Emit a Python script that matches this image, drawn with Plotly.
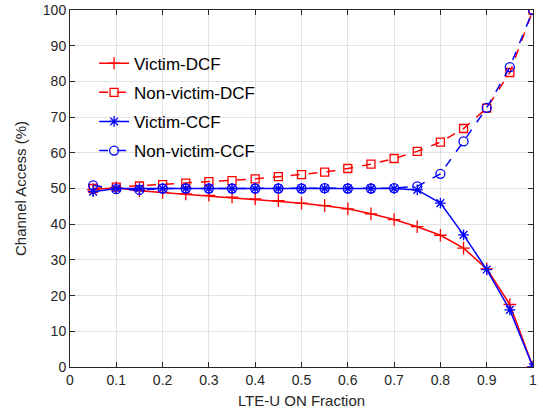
import plotly.graph_objects as go

x = [0.05, 0.1, 0.15, 0.2, 0.25, 0.3, 0.35, 0.4, 0.45, 0.5,
     0.55, 0.6, 0.65, 0.7, 0.75, 0.8, 0.85, 0.9, 0.95, 1.0]
victim_dcf = [49.7, 50.2, 49.4, 48.9, 48.5, 48.1, 47.6, 47.1, 46.6, 45.9,
              45.2, 44.3, 42.9, 41.3, 39.3, 36.9, 33.3, 27.5, 17.5, 0.0]
nonvictim_dcf = [50.0, 50.4, 50.7, 51.1, 51.5, 51.9, 52.2, 52.7, 53.3, 53.9,
                 54.6, 55.6, 56.8, 58.4, 60.4, 63.0, 66.8, 72.5, 82.5, 100.0]
victim_ccf = [49.1, 50.0, 50.0, 50.0, 50.0, 50.0, 50.0, 50.0, 50.0, 50.0,
              50.0, 50.0, 50.0, 50.0, 49.6, 45.9, 37.0, 27.3, 16.0, 0.0]
nonvictim_ccf = [50.9, 49.8, 49.6, 50.0, 50.0, 50.0, 50.0, 50.0, 50.0, 50.0,
                 50.1, 50.0, 50.0, 50.1, 50.6, 54.1, 63.2, 72.6, 84.0, 100.0]

x_ticks = [0, 0.1, 0.2, 0.3, 0.4, 0.5, 0.6, 0.7, 0.8, 0.9, 1]
x_labels = ["0", "0.1", "0.2", "0.3", "0.4", "0.5", "0.6", "0.7", "0.8", "0.9", "1"]
y_ticks = [0, 10, 20, 30, 40, 50, 60, 70, 80, 90, 100]

RED = "#ff0000"
BLUE = "#0000ff"
FONT = "Liberation Sans, Arial, sans-serif"

fig = go.Figure()
fig.add_trace(go.Scatter(x=x, y=victim_dcf, name="Victim-DCF", mode="lines+markers",
                         legendgroup="a",
                         line=dict(color=RED, width=1.5),
                         marker=dict(symbol="cross-thin-open", size=9, color=RED,
                                     line=dict(color=RED, width=1.3))))
fig.add_trace(go.Scatter(x=x, y=nonvictim_dcf, name="Non-victim-DCF", mode="lines+markers",
                         legendgroup="b",
                         line=dict(color=RED, width=1.5, dash="dash"),
                         marker=dict(symbol="square-open", size=8, color=RED,
                                     line=dict(color=RED, width=1.3))))
fig.add_trace(go.Scatter(x=x, y=victim_ccf, name="Victim-CCF", mode="lines+markers",
                         legendgroup="c",
                         line=dict(color=BLUE, width=1.5),
                         marker=dict(symbol="asterisk-open", size=9, color=BLUE,
                                     line=dict(color=BLUE, width=1.3))))
fig.add_trace(go.Scatter(x=x, y=nonvictim_ccf, name="Non-victim-CCF", mode="lines+markers",
                         legendgroup="d",
                         line=dict(color=BLUE, width=1.5, dash="dash"),
                         marker=dict(symbol="circle-open", size=9, color=BLUE,
                                     line=dict(color=BLUE, width=1.3))))

axis_common = dict(
    showline=True, linecolor="#262626", linewidth=1, mirror="ticks",
    ticks="inside", ticklen=5, tickcolor="#262626",
    showgrid=True, gridcolor="#e3e3e3", gridwidth=1,
    zeroline=False, automargin=False,
    tickfont=dict(family=FONT, size=14, color="#262626"),
)

fig.update_xaxes(range=[0, 1], tickvals=x_ticks, ticktext=x_labels,
                 title=dict(text="LTE-U ON Fraction", standoff=8,
                            font=dict(family=FONT, size=15, color="#262626")),
                 **axis_common)
fig.update_yaxes(range=[0, 100], tickvals=y_ticks,
                 title=dict(text="Channel Access (%)", standoff=12,
                            font=dict(family=FONT, size=15, color="#262626")),
                 **axis_common)

fig.update_layout(
    width=543, height=415,
    margin=dict(l=70, r=10, t=10, b=48),
    paper_bgcolor="white", plot_bgcolor="white",
    font=dict(family=FONT, color="#262626"),
    legend=dict(x=0.052, y=0.9, xanchor="left", yanchor="top",
                bgcolor="rgba(255,255,255,0)", borderwidth=0,
                traceorder="grouped", tracegroupgap=4,
                font=dict(family=FONT, size=17, color="#000000"),
                itemwidth=30),
    showlegend=True,
)

fig.write_html("out.html", config={"displayModeBar": False},
               post_script="document.body.style.margin='0';document.body.style.overflow='hidden';")
